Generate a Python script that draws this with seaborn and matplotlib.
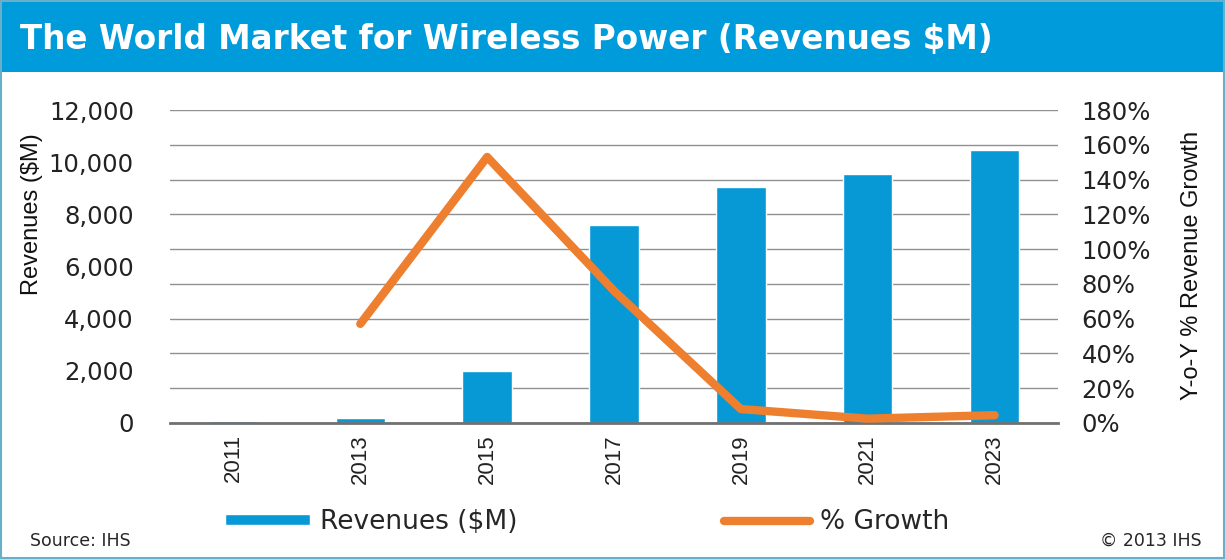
import numpy as np
import pandas as pd
import matplotlib
matplotlib.use("Agg")
import matplotlib.pyplot as plt
from matplotlib.patches import Rectangle
import seaborn as sns

years = [2011, 2013, 2015, 2017, 2019, 2021, 2023]
revenues = [90, 210, 2000, 7600, 9050, 9550, 10450]
growth = [np.nan, 57, 153, 76, 8, 2.5, 4.5]
left_ticks = [0, 2000, 4000, 6000, 8000, 10000, 12000]
right_ticks = [0, 20, 40, 60, 80, 100, 120, 140, 160, 180]

BLUE = "#0798D6"
ORANGE = "#EE7F2E"
GRID = "#909090"
NARROW = ["Liberation Sans", "DejaVu Sans"]


def main():
    sns.set_style("white")
    plt.rcParams["font.family"] = ["DejaVu Sans"]

    rev_df = pd.DataFrame({"year": years, "revenue": revenues})
    gr_df = pd.DataFrame({"year": years, "growth": growth}).dropna()

    fig = plt.figure(figsize=(12.25, 5.59), dpi=100)

    # header band + frame
    fig.patches.append(Rectangle((0.002, 1 - 72 / 559), 0.998, 72 / 559 - 0.004,
                                 transform=fig.transFigure, facecolor="#009BDB",
                                 edgecolor="none", zorder=0))
    fig.patches.append(Rectangle((0.001, 0.002), 0.998, 0.996, transform=fig.transFigure,
                                 facecolor="none", edgecolor="#6AAFC8", lw=1.5, zorder=0))
    fig.text(20 / 1225, 1 - 40 / 559, "The World Market for Wireless Power (Revenues $M)",
             color="white", fontsize=23.5, fontweight="bold", va="center", ha="left")

    ax = fig.add_axes([0.1388, 0.2433, 0.7249, 0.5599])
    for g in right_ticks:
        ax.axhline(g / 180 * 12000, color=GRID, lw=1, zorder=0)
    sns.barplot(data=rev_df, x="year", y="revenue", native_scale=True, width=0.39,
                color=BLUE, saturation=1, ax=ax, label="Revenues ($M)", zorder=2)
    if ax.get_legend() is not None:
        ax.get_legend().remove()
    ax.set_xlim(2010, 2024)
    ax.set_ylim(0, 12000)
    ax.set_yticks(left_ticks)
    ax.set_yticklabels([f"{v:,}" for v in left_ticks], fontsize=17.5, color="#222222")
    ax.tick_params(axis="y", length=0, pad=26)
    ax.set_xticks(np.arange(2010, 2025, 2))
    ax.set_xticklabels([])
    ax.tick_params(axis="x", which="major", length=6, width=2, color="#707070", direction="out")
    ax.set_xticks(years, minor=True)
    ax.set_xticklabels([str(y) for y in years], minor=True, rotation=90,
                       fontsize=16, family=NARROW, color="#222222")
    ax.tick_params(axis="x", which="minor", length=0, pad=8)
    ax.set_xlabel("")
    ax.set_ylabel("")
    ax.grid(False)
    for s in ["top", "left", "right"]:
        ax.spines[s].set_visible(False)
    ax.spines["bottom"].set_color("#707070")
    ax.spines["bottom"].set_linewidth(2)
    ax.spines["bottom"].set_zorder(3)

    ax2 = ax.twinx()
    sns.lineplot(data=gr_df, x="year", y="growth", color=ORANGE, lw=6, ax=ax2,
                 label="% Growth", legend=False, solid_capstyle="round",
                 solid_joinstyle="round")
    if ax2.get_legend() is not None:
        ax2.get_legend().remove()
    ax2.set_ylim(0, 180)
    ax2.set_yticks(right_ticks)
    ax2.set_yticklabels([f"{v}%" for v in right_ticks], fontsize=17.5, color="#222222")
    ax2.tick_params(axis="y", length=0, pad=17)
    ax2.set_ylabel("")
    ax2.grid(False)
    for s in ax2.spines.values():
        s.set_visible(False)

    fig.text(32 / 1225, 1 - 214 / 559, "Revenues ($M)", rotation=90, ha="center",
             va="center", fontsize=17, family=NARROW, color="#111111")
    fig.text(1192 / 1225, 1 - 265 / 559, "Y-o-Y % Revenue Growth", rotation=90,
             ha="center", va="center", fontsize=17, family=NARROW, color="#111111")

    handles = [ax.containers[0], ax2.get_lines()[0]]
    fig.legend(handles, ["Revenues ($M)", "% Growth"], loc="center",
               bbox_to_anchor=(0.479, 1 - 522 / 559), ncol=2, frameon=False,
               fontsize=19, handlelength=3.25, handleheight=0.28, handletextpad=0.38,
               columnspacing=7.8)

    fig.text(30 / 1225, 1 - 541 / 559, "Source: IHS", fontsize=12.5, va="center", ha="left")
    fig.text(1202 / 1225, 1 - 541 / 559, "\u00a9 2013 IHS", fontsize=12.5, va="center", ha="right")

    fig.savefig("out.png", dpi=100)


if __name__ == "__main__":
    main()
